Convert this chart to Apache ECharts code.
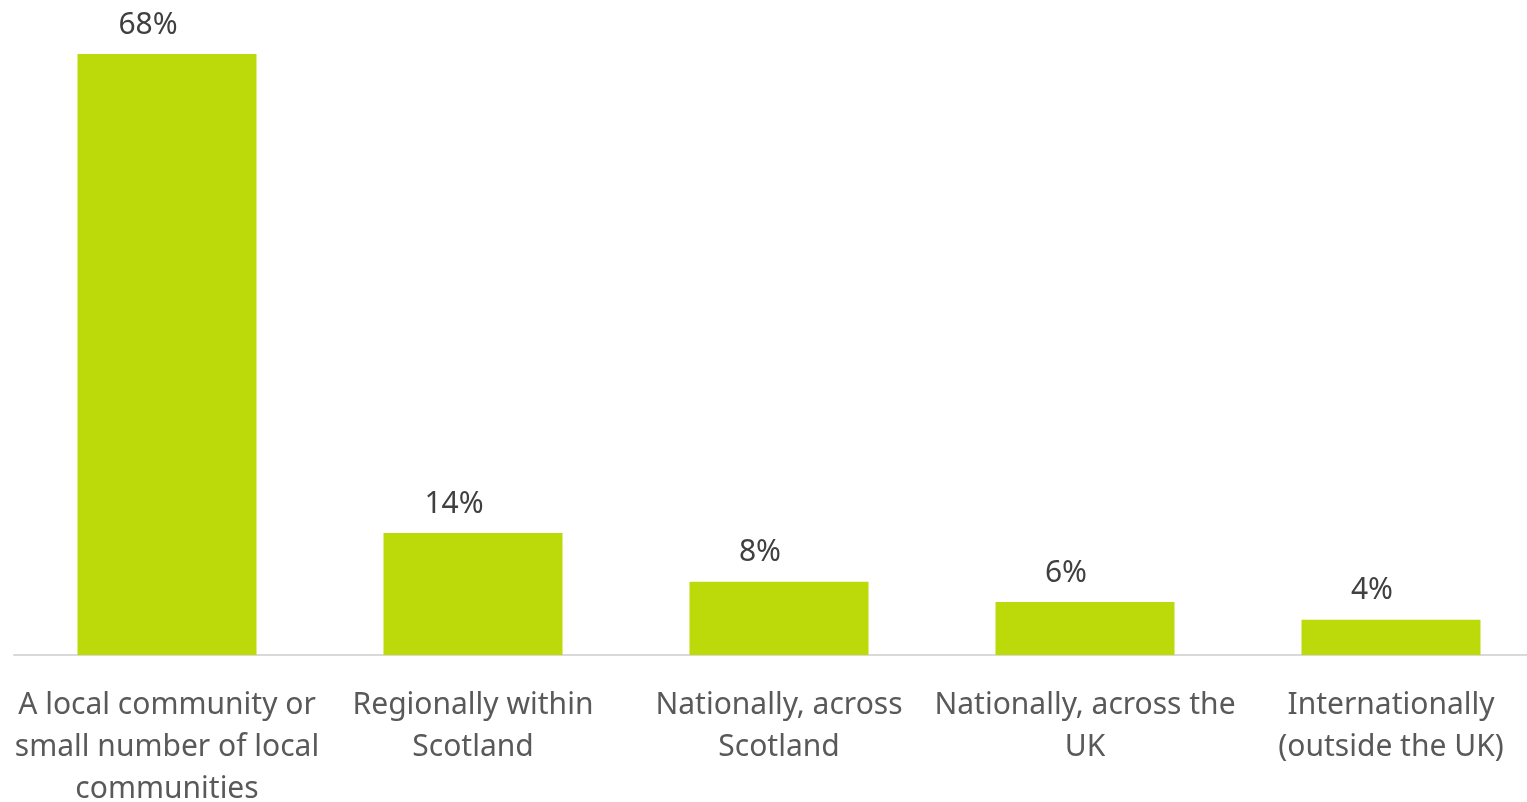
<!DOCTYPE html>
<html><head><meta charset="utf-8">
<script src="https://cdn.jsdelivr.net/npm/echarts@6/dist/echarts.min.js"></script>
<style>html,body{margin:0;padding:0;background:#fff}#c{width:1527px;height:802px}</style>
</head><body><div id="c"></div>
<script>
const categories = ["A local community or\nsmall number of local\ncommunities", "Regionally within\nScotland", "Nationally, across\nScotland", "Nationally, across the\nUK", "Internationally\n(outside the UK)"];
const values = [68, 13.8, 8.3, 6.0, 4.0];
const chart = echarts.init(document.getElementById('c'));
chart.setOption({
  animation: false,
  grid: {left: 14, top: 54, right: -17, bottom: 147, containLabel: false, outerBoundsMode: 'none'},
  xAxis: {type: 'category', data: categories,
    axisLine: {lineStyle: {color: '#d9d9d9', width: 2}}, axisTick: {show: false},
    axisLabel: {color: '#595959', fontFamily: 'Noto Sans', fontSize: 30, lineHeight: 42, margin: 29, interval: 0}},
  yAxis: {type: 'value', min: 0, max: 68, show: false, splitLine: {show: false}},
  series: [{type: 'bar', data: values, barWidth: 179, itemStyle: {color: '#BCD90A'},
    label: {show: true, position: 'top', distance: 14, offset: [-19, 0], color: '#404040', fontFamily: 'Noto Sans', fontSize: 30,
      formatter: p => Math.round(p.value) + '%'}}]
});
</script></body></html>
